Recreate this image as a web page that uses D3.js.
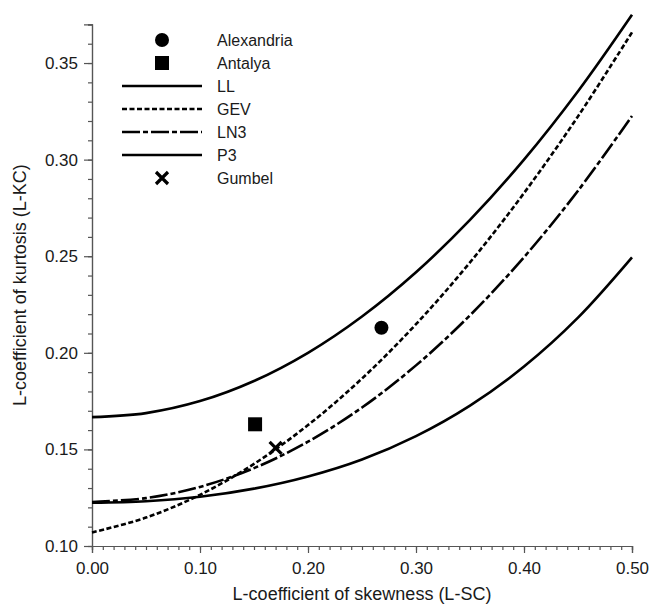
<!DOCTYPE html>
<html>
<head>
<meta charset="utf-8">
<script src="https://cdn.jsdelivr.net/npm/d3@7"></script>
<style>
  body { margin: 0; background: #fff; }
  text { font-family: "Liberation Sans", Arial, sans-serif; fill: #1a1a1a; }
</style>
</head>
<body>
<div id="chart"></div>
<script>
// L-skewness positions where the curves were read
const skew = [0, 0.05, 0.10, 0.15, 0.20, 0.25, 0.30, 0.35, 0.40, 0.45, 0.50];

// L-kurtosis
const llVals  = [0.1667, 0.1688, 0.1750, 0.1854, 0.2000, 0.2188, 0.2417, 0.2688, 0.3000, 0.3354, 0.3750];
const gevVals = [0.1070, 0.1147, 0.1265, 0.1425, 0.1626, 0.1867, 0.2148, 0.2468, 0.2827, 0.3224, 0.3659];
const ln3Vals = [0.1228, 0.1248, 0.1306, 0.1403, 0.1540, 0.1717, 0.1935, 0.2194, 0.2495, 0.2839, 0.3226];
const p3Vals  = [0.1224, 0.1232, 0.1255, 0.1297, 0.1360, 0.1448, 0.1569, 0.1727, 0.1929, 0.2182, 0.2494];

// sample points
const stations = [
  { name: "Alexandria", sc: 0.268, kc: 0.213, shape: "circle" },
  { name: "Antalya", sc: 0.151, kc: 0.163, shape: "square" }
];
const gumbel = { name: "Gumbel", sc: 0.170, kc: 0.1508 };

const xTicks = [0, 0.1, 0.2, 0.3, 0.4, 0.5];
const yTicks = [0.10, 0.15, 0.20, 0.25, 0.30, 0.35];

const curves = [
  { name: "LL", values: llVals, dash: null },
  { name: "GEV", values: gevVals, dash: "5,2.5" },
  { name: "LN3", values: ln3Vals, dash: "18,3,5,3" },
  { name: "P3", values: p3Vals, dash: null }
];

const W = 649, H = 605;
const svg = d3.select("#chart").append("svg")
    .attr("width", W).attr("height", H);

const x = d3.scaleLinear().domain([0, 0.5]).range([92, 632]);
const y = d3.scaleLinear().domain([0.10, 0.37]).range([546, 24.4]);

const axisColor = "#555";

// minor ticks every 0.01
const xMinor = d3.range(0, 0.5001, 0.01);
const yMinor = d3.range(0.10, 0.3701, 0.01);

function styleAxis(g) {
  g.select(".domain").attr("stroke", axisColor).attr("stroke-width", 1.2);
  g.selectAll(".tick line").attr("stroke", axisColor).attr("stroke-width", 1.2);
  g.selectAll("text").attr("font-size", 17)
      .style("font-family", "Liberation Sans, Arial, sans-serif").attr("fill", "#1a1a1a");
}

const gx = svg.append("g").attr("transform", `translate(0,${y(0.10)})`)
    .call(d3.axisBottom(x).tickValues(xMinor).tickSize(4).tickFormat(""));
const gxMajor = svg.append("g").attr("transform", `translate(0,${y(0.10)})`)
    .call(d3.axisBottom(x).tickValues(xTicks).tickSize(7).tickPadding(9).tickFormat(d3.format(".2f")));
styleAxis(gx); styleAxis(gxMajor);

const gy = svg.append("g").attr("transform", `translate(${x(0)},0)`)
    .call(d3.axisLeft(y).tickValues(yMinor).tickSize(4).tickFormat(""));
const gyMajor = svg.append("g").attr("transform", `translate(${x(0)},0)`)
    .call(d3.axisLeft(y).tickValues(yTicks).tickSize(8).tickPadding(6).tickFormat(d3.format(".2f")));
styleAxis(gy); styleAxis(gyMajor);

// axis titles
svg.append("text")
    .attr("x", (x(0) + x(0.5)) / 2)
    .attr("y", 600)
    .attr("text-anchor", "middle")
    .attr("font-size", 18)
    .text("L-coefficient of skewness (L-SC)");

svg.append("text")
    .attr("transform", `translate(26,${(y(0.10) + y(0.37)) / 2}) rotate(-90)`)
    .attr("text-anchor", "middle")
    .attr("font-size", 18)
    .text("L-coefficient of kurtosis (L-KC)");

// curves
const line = d3.line()
    .x((d, i) => x(skew[i]))
    .y(d => y(d))
    .curve(d3.curveCatmullRom);

svg.selectAll(".curve")
  .data(curves)
  .join("path")
    .attr("class", "curve")
    .attr("d", d => line(d.values))
    .attr("fill", "none")
    .attr("stroke", "#000")
    .attr("stroke-width", 2.6)
    .attr("stroke-dasharray", d => d.dash);

// station points
function drawShape(g, shape, cx, cy) {
  if (shape === "circle") {
    g.append("circle").attr("cx", cx).attr("cy", cy).attr("r", 7).attr("fill", "#000");
  } else if (shape === "square") {
    g.append("rect").attr("x", cx - 7).attr("y", cy - 7).attr("width", 14).attr("height", 14).attr("fill", "#000");
  } else if (shape === "cross") {
    const s = 6;
    g.append("path")
        .attr("d", `M${cx - s},${cy - s}L${cx + s},${cy + s}M${cx - s},${cy + s}L${cx + s},${cy - s}`)
        .attr("stroke", "#000").attr("stroke-width", 3.2).attr("fill", "none");
  }
}

const pts = svg.append("g");
stations.forEach(s => drawShape(pts, s.shape, x(s.sc), y(s.kc)));
drawShape(pts, "cross", x(gumbel.sc), y(gumbel.kc));

// legend
const legendItems = [
  { label: "Alexandria", type: "circle" },
  { label: "Antalya", type: "square" },
  { label: "LL", type: "line", dash: null },
  { label: "GEV", type: "line", dash: "5,2.5" },
  { label: "LN3", type: "line", dash: "18,3,5,3" },
  { label: "P3", type: "line", dash: null },
  { label: "Gumbel", type: "cross" }
];

const legend = svg.append("g");
legendItems.forEach((d, i) => {
  const ry = 40 + i * 23;
  if (d.type === "line") {
    legend.append("line")
        .attr("x1", 122).attr("x2", 202).attr("y1", ry).attr("y2", ry)
        .attr("stroke", "#000").attr("stroke-width", 2.6)
        .attr("stroke-dasharray", d.dash);
  } else {
    drawShape(legend, d.type, 162, ry);
  }
  legend.append("text")
      .attr("x", 217).attr("y", ry)
      .attr("dy", "0.35em")
      .attr("font-size", 16)
      .text(d.label);
});
</script>
</body>
</html>
